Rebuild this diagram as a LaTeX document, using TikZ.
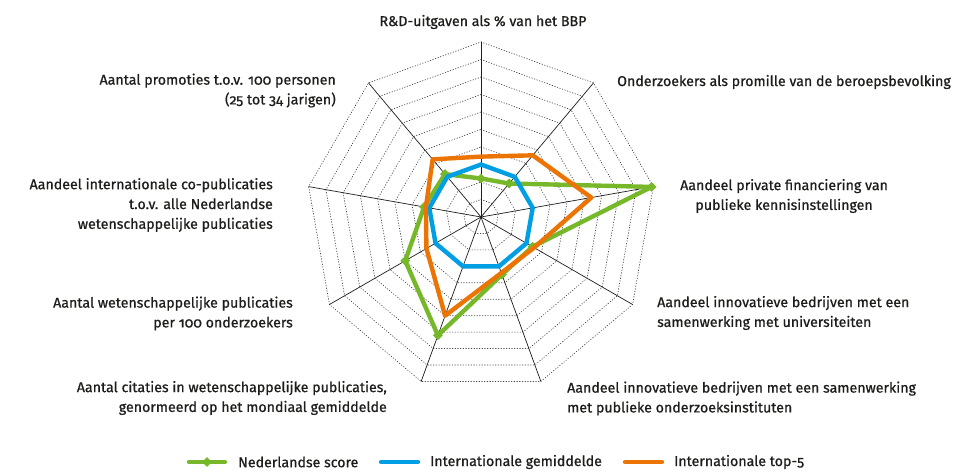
\documentclass[tikz,border=0pt]{standalone}
\usepackage{fontspec}
\setmainfont{Fira Sans}[Numbers=OldStyle,FakeBold=0.8]
\usetikzlibrary{shapes.geometric}
\definecolor{nlgreen}{RGB}{118,184,42}
\definecolor{intblue}{RGB}{0,159,227}
\definecolor{toporange}{RGB}{236,116,4}
\definecolor{inkblack}{RGB}{29,29,27}
\tikzset{
  axislabel/.style={font=\fontsize{14.2}{19.8}\selectfont,text=inkblack,inner sep=0pt},
  nlmark/.style={diamond,fill=nlgreen,minimum size=10pt,inner sep=0pt},
  serie/.style={line width=4.4pt,line cap=round,line join=round}
}
\begin{document}
\begin{tikzpicture}[x=1pt,y=1pt,line cap=round,line join=round]
\useasboundingbox (0,0) rectangle (956,472);
\begin{scope}[shift={(481,255)},x=17.5pt,y=17.5pt]
% grid
\foreach \r in {1,...,10}
\draw[dotted,line width=0.7pt,color=inkblack!85] (90:\r) -- (50:\r) -- (10:\r) -- (-30:\r) -- (-70:\r) -- (-110:\r) -- (-150:\r) -- (170:\r) -- (130:\r) -- cycle;
\foreach \a in {90,50,10,-30,-70,-110,-150,170,130}
\draw[line width=0.7pt,color=inkblack] (0,0) -- (\a:10);
% series
\foreach \a/\v [count=\i] in {90/2.2,50/2.5,10/9.9,-30/3.4,-70/3.5,-110/7.2,-150/5.0,170/3.3,130/3.2}
\coordinate (nl\i) at (\a:\v);
\draw[serie,nlgreen] (nl1) -- (nl2) -- (nl3) -- (nl4) -- (nl5) -- (nl6) -- (nl7) -- (nl8) -- (nl9) -- cycle;
\foreach \i in {1,...,9}
\node[nlmark] (nlm\i) at (nl\i) {};
\draw[serie,intblue] (90:3) -- (50:3) -- (10:3) -- (-30:3) -- (-70:3) -- (-110:3) -- (-150:3) -- (170:3) -- (130:3) -- cycle;
\draw[serie,toporange] (90:3.45) -- (50:4.6) -- (10:6.4) -- (-30:3.5) -- (-70:3.4) -- (-110:6.0) -- (-150:3.6) -- (170:3.2) -- (130:4.3) -- cycle;
\end{scope}
% labels
\node[axislabel] (rd) at (483,450) {R\&D-uitgaven als \% van het BBP};
\node[axislabel,anchor=west] (onderz) at (617,390) {Onderzoekers als promille van de beroepsbevolking};
\node[axislabel,anchor=west,align=center] (privfin) at (680,276) {Aandeel private financiering van\\publieke kennisinstellingen};
\node[axislabel,anchor=west,align=left] (univ) at (657,159) {Aandeel innovatieve bedrijven met een\\samenwerking met universiteiten};
\node[axislabel,anchor=west,align=left] (inst) at (567,73.5) {Aandeel innovatieve bedrijven met een samenwerking\\met publieke onderzoeksinstituten};
\node[axislabel,anchor=east,align=right] (citat) at (387,74) {Aantal citaties in wetenschappelijke publicaties,\\genormeerd op het mondiaal gemiddelde};
\node[axislabel,anchor=east,align=right] (publ) at (293,158.5) {Aantal wetenschappelijke publicaties\\per 100 onderzoekers};
\node[axislabel,anchor=east,align=right] (copubl) at (273,267) {Aandeel internationale co-publicaties\\t.o.v. alle Nederlandse\\wetenschappelijke publicaties};
\node[axislabel,anchor=east,align=right] (promo) at (336,381.5) {Aantal promoties t.o.v. 100 personen\\(25 tot 34 jarigen)};
% legend
\coordinate (lgA) at (189,10); \coordinate (lgB) at (225,10);
\coordinate (lgC) at (381,10); \coordinate (lgD) at (418,10);
\coordinate (lgE) at (625,10); \coordinate (lgF) at (662,10);
\draw[line width=4.2pt,nlgreen] (lgA) -- (lgB);
\node[nlmark] (lgmark) at (207,10) {};
\draw[line width=4.2pt,intblue] (lgC) -- (lgD);
\draw[line width=4.2pt,toporange] (lgE) -- (lgF);
\node[axislabel,anchor=west] (lgnl) at (238,10) {Nederlandse score};
\node[axislabel,anchor=west] (lgint) at (430,10) {Internationale gemiddelde};
\node[axislabel,anchor=west] (lgtop) at (674,10) {Internationale top-5};
\end{tikzpicture}
\end{document}
